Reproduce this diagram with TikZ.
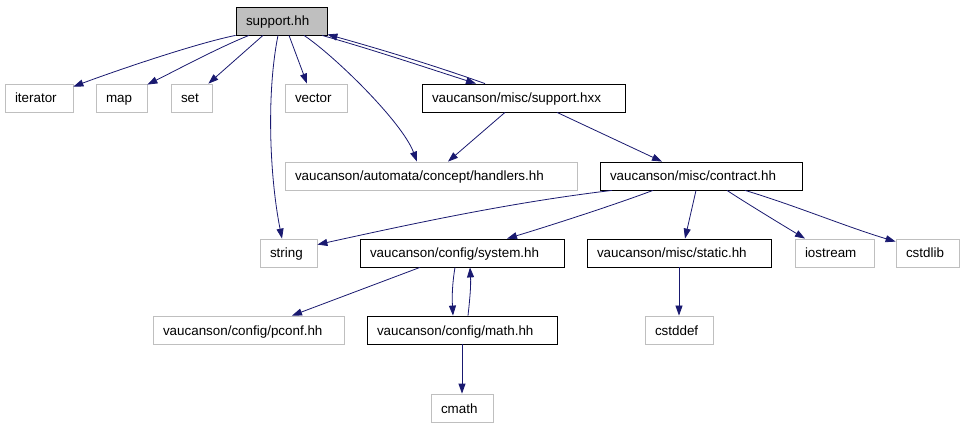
\documentclass[tikz,border=0pt]{standalone}
\usepackage{fontspec}
\setmainfont{Liberation Sans}
\usetikzlibrary{arrows.meta}
\definecolor{edgecol}{HTML}{191970}
\definecolor{graybd}{HTML}{BFBFBF}
\begin{document}
\begin{tikzpicture}[x=1pt,y=-1pt,
  box/.style={draw=graybd, line width=0.8pt, inner xsep=10pt, inner ysep=0pt, minimum height=28pt,
    text height=12pt, text depth=2pt,
    align=left, font=\fontsize{13.4}{15}\selectfont, anchor=center},
  blk/.style={box, draw=black},
  edge/.style={draw=edgecol, line width=0.8pt, -{Triangle[length=10pt,width=7pt]}}]
\fill[white] (0,0) rectangle (963,427);
\useasboundingbox (0,0) rectangle (963,427);
% nodes
\node[blk, fill=graybd, text width=71pt] (sh) at (281.5,21) {support.hh};
\node[box, text width=48pt] (it) at (39,98) {iterator};
\node[box, text width=31pt] (map) at (121.5,98) {map};
\node[box, text width=21pt] (set) at (191.5,98) {set};
\node[box, text width=42pt] (vec) at (316,98) {vector};
\node[blk, text width=183pt] (hxx) at (523.5,98) {vaucanson/misc/support.hxx};
\node[box, text width=272pt] (han) at (431,176) {vaucanson/automata/concept/handlers.hh};
\node[blk, text width=182pt] (con) at (701,176) {vaucanson/misc/contract.hh};
\node[box, text width=37pt] (str) at (288.5,253) {string};
\node[blk, text width=184pt] (sys) at (462,253) {vaucanson/config/system.hh};
\node[blk, text width=164pt] (sta) at (679,253) {vaucanson/misc/static.hh};
\node[box, text width=59pt] (ios) at (834.5,253) {iostream};
\node[box, text width=43pt] (lib) at (927.5,253) {cstdlib};
\node[box, text width=171pt] (pcf) at (248.5,330) {vaucanson/config/pconf.hh};
\node[blk, text width=170pt] (mat) at (462,330) {vaucanson/config/math.hh};
\node[box, text width=48pt] (def) at (679,330) {cstddef};
\node[box, text width=42pt] (cm) at (462,408) {cmath};
% edges
\draw[edge] (sh.south west) .. controls +(-40,8) and +(40,-15) .. ([yshift=-3pt]it.north east);
\draw[edge] ([xshift=-32.5pt]sh.south) .. controls +(-30,12) and +(30,-15) .. ([yshift=-1pt]map.north east);
\draw[edge] ([xshift=-18.5pt]sh.south) -- ([xshift=-4pt]set.north east);
\draw[edge] ([xshift=-3.5pt]sh.south) .. controls +(-12,60) and +(-12,-60) .. ([xshift=-6.5pt]str.north);
\draw[edge] ([xshift=7.5pt]sh.south) -- ([xshift=-9pt]vec.north);
\draw[edge] ([xshift=22.5pt]sh.south) .. controls +(30,20) and +(-15,-40) .. ([xshift=-14pt]han.north);
\draw[edge] ([xshift=40.5pt]sh.south) .. controls +(50,14) and +(-50,-16) .. ([xshift=-47.5pt]hxx.north);
\draw[edge] ([xshift=-38.5pt]hxx.north) .. controls +(-50,-18) and +(50,14) .. ([yshift=1pt]sh.south east);
\draw[edge] ([xshift=-18.5pt]hxx.south) -- ([xshift=17pt]han.north);
\draw[edge] ([xshift=33.5pt]hxx.south) -- ([xshift=-39pt]con.north);
\draw[edge] ([xshift=-89pt]con.south) .. controls +(-100,12) and +(100,-22) .. ([yshift=-6pt]str.north east);
\draw[edge] ([xshift=-48pt]con.south) .. controls +(-40,15) and +(40,-12) .. ([xshift=45pt]sys.north);
\draw[edge] ([xshift=-5pt]con.south) -- ([xshift=6pt]sta.north);
\draw[edge] ([xshift=26pt]con.south) .. controls +(15,10) and +(-25,-15) .. ([xshift=-29.5pt]ios.north);
\draw[edge] ([xshift=44pt]con.south) .. controls +(50,15) and +(-50,-15) .. ([yshift=-3pt]lib.north west);
\draw[edge] ([xshift=-42pt]sys.south) -- ([xshift=43.5pt]pcf.north);
\draw[edge] ([xshift=-7pt]sys.south) .. controls +(-3,18) and +(-1,-18) .. ([xshift=-9pt]mat.north);
\draw[edge] ([xshift=6pt]mat.north) .. controls +(2,-18) and +(1,18) .. ([xshift=8pt]sys.south);
\draw[edge] (mat.south) -- (cm.north);
\draw[edge] (sta.south) -- (def.north);
\end{tikzpicture}
\end{document}
